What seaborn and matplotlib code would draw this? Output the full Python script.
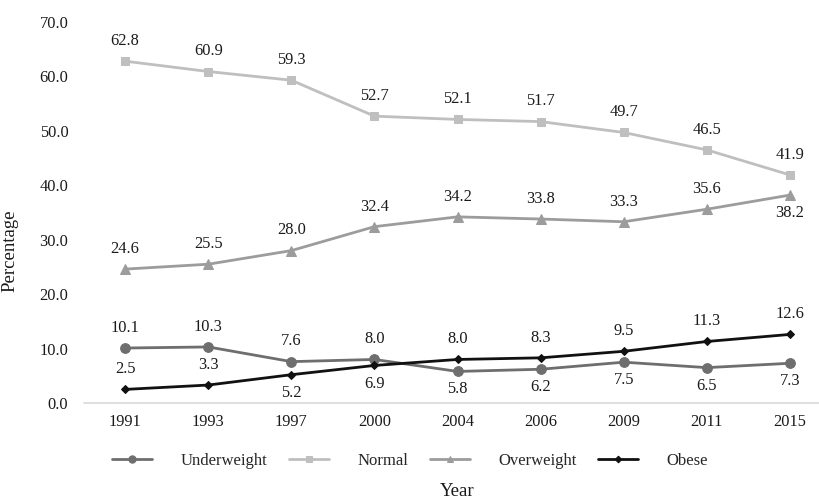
import pandas as pd
import seaborn as sns
import matplotlib.pyplot as plt

### DATA ###
years = ["1991", "1993", "1997", "2000", "2004", "2006", "2009", "2011", "2015"]
underweight = [10.1, 10.3, 7.6, 8.0, 5.8, 6.2, 7.5, 6.5, 7.3]
normal = [62.8, 60.9, 59.3, 52.7, 52.1, 51.7, 49.7, 46.5, 41.9]
overweight = [24.6, 25.5, 28.0, 32.4, 34.2, 33.8, 33.3, 35.6, 38.2]
obese = [2.5, 3.3, 5.2, 6.9, 8.0, 8.3, 9.5, 11.3, 12.6]
series_names = ["Underweight", "Normal", "Overweight", "Obese"]

# where each value label sits (1 = above the point, -1 = below)
label_side = {
    "Underweight": [1, 1, 1, 1, -1, -1, -1, -1, -1],
    "Normal": [1] * 9,
    "Overweight": [1, 1, 1, 1, 1, 1, 1, 1, -1],
    "Obese": [1, 1, -1, -1, 1, 1, 1, 1, 1],
}

df = pd.DataFrame({
    "Year": years * 4,
    "Percentage": underweight + normal + overweight + obese,
    "Group": [n for n in series_names for _ in years],
})
df["pos"] = df["Year"].map({y: i for i, y in enumerate(years)})

### STYLE ###
sns.set_style("white")
plt.rcParams["font.family"] = ["Liberation Serif", "DejaVu Serif"]
plt.rcParams["font.size"] = 11.5

palette = {
    "Underweight": "#6e6e6e",
    "Normal": "#bfbfbf",
    "Overweight": "#9c9c9c",
    "Obese": "#111111",
}
markers = {"Underweight": "o", "Normal": "s", "Overweight": "^", "Obese": "D"}
msize = {"Underweight": 7, "Normal": 6, "Overweight": 6.5, "Obese": 4.5}

fig = plt.figure(figsize=(8.2, 5.01), dpi=100)
ax = fig.add_axes([0.102, 0.1956, 0.912, 0.7605])

for name in series_names:
    sub = df[df["Group"] == name]
    sns.lineplot(
        data=sub, x="pos", y="Percentage", ax=ax,
        color=palette[name], marker=markers[name], markersize=msize[name],
        markeredgecolor=palette[name], linewidth=2, label=name,
    )
    for x, y, side in zip(sub["pos"], sub["Percentage"], label_side[name]):
        off = 14.5 if side > 0 else -13
        ax.annotate(f"{y:.1f}", (x, y), xytext=(0, off), textcoords="offset points",
                    ha="center", va="center", fontsize=11.8, color="#1a1a1a")

### AXES ###
ax.set_xlim(-0.5, 8.5)
ax.set_ylim(0, 70)
ax.set_yticks(range(0, 71, 10))
ax.set_yticklabels([f"{v:.1f}" for v in range(0, 71, 10)])
ax.set_xticks(range(len(years)))
ax.set_xticklabels(years)
ax.set_xticks([i + 0.5 for i in range(-1, len(years))], minor=True)
ax.tick_params(axis="x", which="major", length=0, pad=8, labelsize=11.8, colors="#1a1a1a")
ax.tick_params(axis="x", which="minor", length=5, width=1, color="#d9d9d9", direction="out")
ax.tick_params(axis="y", length=0, pad=11, labelsize=11.8, colors="#1a1a1a")

for s in ["top", "right", "left"]:
    ax.spines[s].set_visible(False)
ax.spines["bottom"].set_color("#d9d9d9")
ax.spines["bottom"].set_linewidth(1.2)

ax.set_xlabel("")
ax.set_ylabel("Percentage", fontsize=13.5, color="#1a1a1a")
ax.yaxis.set_label_coords(-0.0876, 0.40)
fig.text(457 / 820, 1 - 492 / 501, "Year", ha="center", va="center", fontsize=13.5, color="#1a1a1a")

handles, labels = ax.get_legend_handles_labels()
ax.legend_.remove()
fig.legend(handles, labels, loc="center", bbox_to_anchor=(410 / 820, 1 - 461 / 501),
           ncol=4, frameon=False, handlelength=2.4, handletextpad=1.7,
           columnspacing=1.3, fontsize=12, markerscale=0.75)

fig.savefig("out.png", dpi=100)
